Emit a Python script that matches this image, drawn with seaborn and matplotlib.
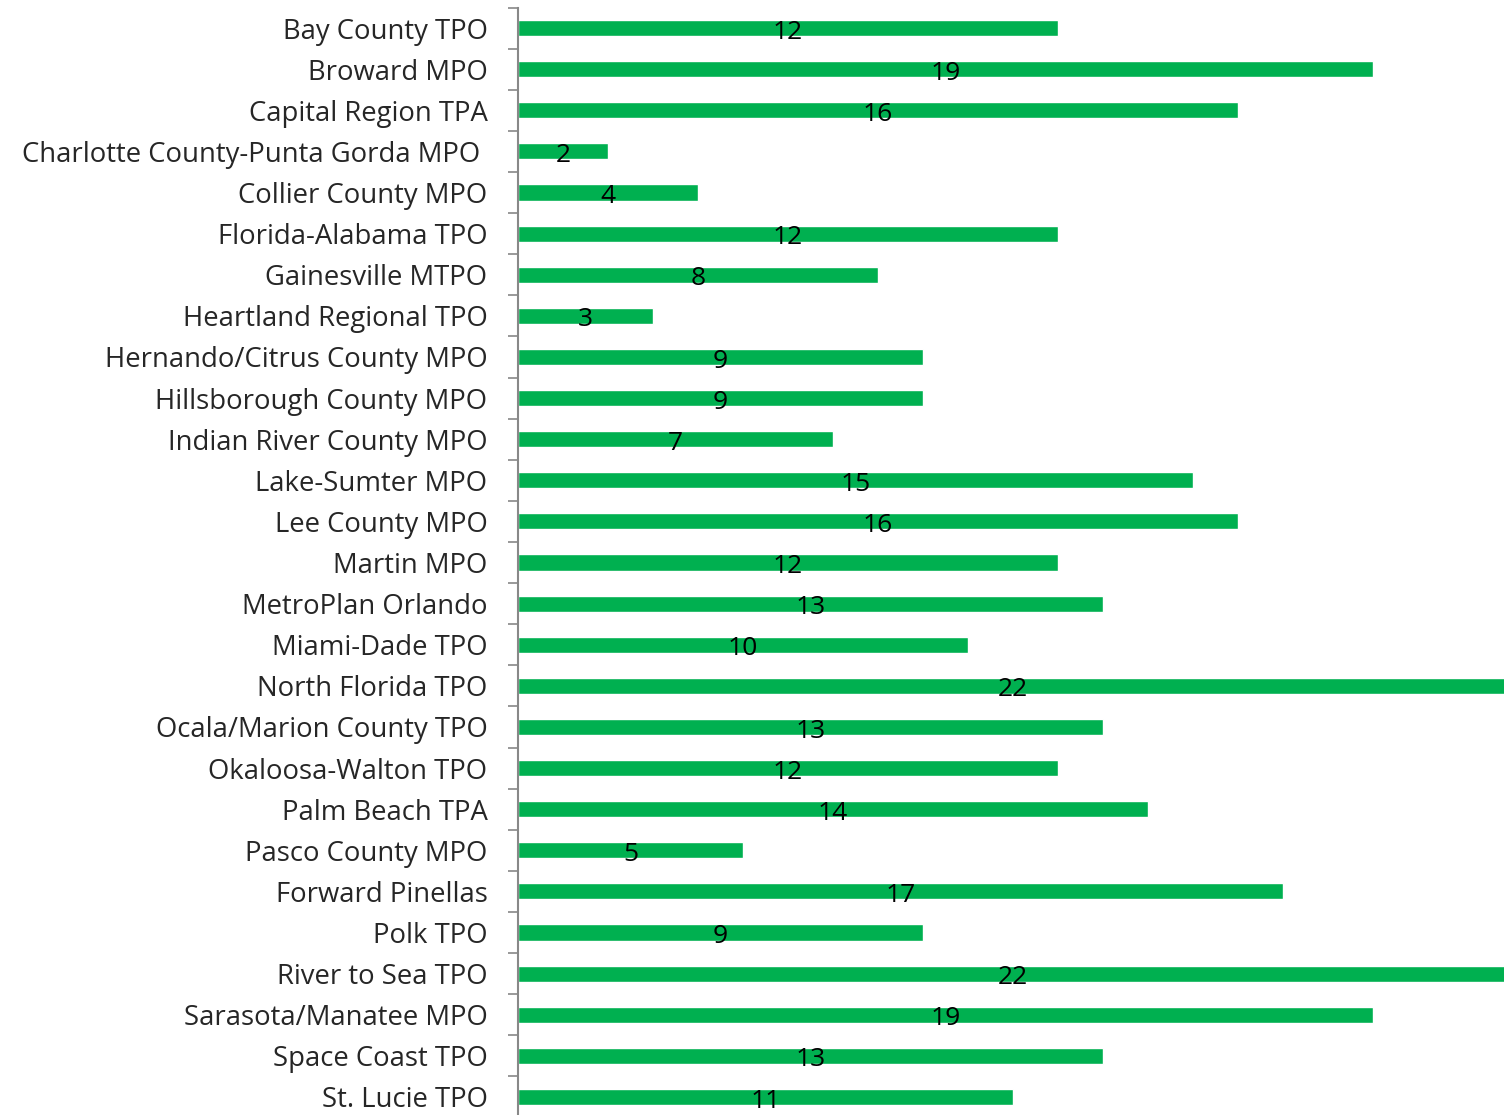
import numpy as np
import pandas as pd
import seaborn as sns
import matplotlib.pyplot as plt

# Dados
orgs = ['Bay County TPO', 'Broward MPO', 'Capital Region TPA',
        'Charlotte County-Punta Gorda MPO ', 'Collier County MPO',
        'Florida-Alabama TPO', 'Gainesville MTPO', 'Heartland Regional TPO',
        'Hernando/Citrus County MPO', 'Hillsborough County MPO',
        'Indian River County MPO', 'Lake-Sumter MPO', 'Lee County MPO',
        'Martin MPO', 'MetroPlan Orlando', 'Miami-Dade TPO',
        'North Florida TPO', 'Ocala/Marion County TPO', 'Okaloosa-Walton TPO',
        'Palm Beach TPA', 'Pasco County MPO', 'Forward Pinellas', 'Polk TPO',
        'River to Sea TPO', 'Sarasota/Manatee MPO', 'Space Coast TPO',
        'St. Lucie TPO']
valores = [12, 19, 16, 2, 4, 12, 8, 3, 9, 9, 7, 15, 16, 12, 13, 10, 22,
           13, 12, 14, 5, 17, 9, 22, 19, 13, 11]

df = pd.DataFrame({'org': orgs, 'valor': valores})

sns.set_style('white')
plt.rcParams['font.family'] = ['Open Sans', 'DejaVu Sans']

fig = plt.figure(figsize=(15.04, 11.15), dpi=100)
ax = fig.add_axes([518 / 1504, -2.5 / 1115, 986 / 1504, 1110 / 1115])

sns.barplot(data=df, x='valor', y='org', color='#00B050', width=0.39,
            saturation=1, ax=ax)

# Rotulos no meio das barras
for i, v in enumerate(valores):
    ax.text(v / 2, i + 0.1, str(v), ha='center', va='center', fontsize=19,
            color='black')

ax.set_xlim(0, 21.9)
ax.set_ylim(len(orgs) - 0.5, -0.5)
ax.set_xlabel('')
ax.set_ylabel('')
ax.set_xticks([])
ax.set_yticks(range(len(orgs)))
ax.set_yticklabels(orgs, fontsize=19.8)
ax.set_yticks(np.arange(-0.5, len(orgs), 1), minor=True)
ax.tick_params(axis='y', which='major', length=0, pad=22)
ax.tick_params(axis='y', which='minor', length=7, width=1.2, color='#888888', left=True)
for s in ['top', 'right', 'bottom']:
    ax.spines[s].set_visible(False)
ax.spines['left'].set_color('#888888')
ax.spines['left'].set_linewidth(1.5)

plt.savefig('out.png', dpi=100)
